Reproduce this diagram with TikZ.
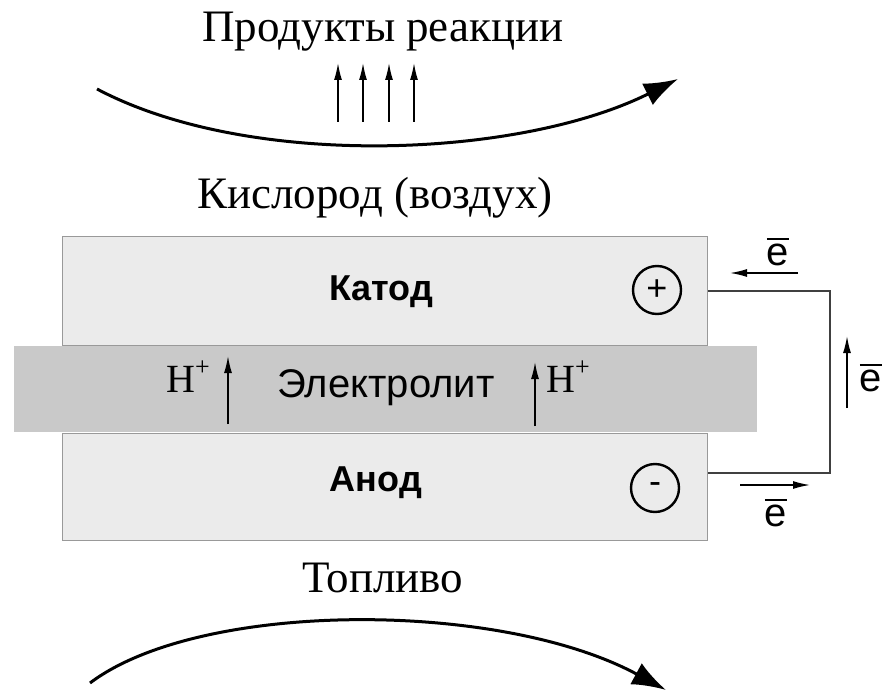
\documentclass[tikz,border=0pt]{standalone}
\usepackage{fontspec}
\setmainfont{Liberation Serif}
\newfontfamily\arial{Liberation Sans}
\usetikzlibrary{arrows.meta}

% electron symbol: sans-serif e with a bar over it
\newcommand\ebar{\hbox{\vbox{\hrule height 2pt\kern 3pt\hbox{e}}}}

\begin{document}
\begin{tikzpicture}[x=1pt,y=-1pt,
  cell/.style={draw=black!40, line width=1.4pt, fill=black!8, inner sep=0pt},
  elyte/.style={fill=black!21, draw=none, inner sep=0pt},
  serif/.style={font=\fontsize{45}{52}\selectfont, inner sep=0pt},
  boldlbl/.style={font=\arial\bfseries\fontsize{36}{42}\selectfont, inner sep=0pt},
  plainlbl/.style={font=\arial\fontsize{40}{46}\selectfont, inner sep=0pt},
  pole/.style={circle, draw=black, line width=2.4pt, minimum size=48pt, inner sep=0pt,
    font=\arial\fontsize{36}{40}\selectfont},
  wire/.style={draw=black!75, line width=2pt},
  flow/.style={line width=3pt, -{Latex[length=34pt,width=24pt]}},
  thin/.style={line width=1.5pt, -{Latex[length=17pt,width=8pt]}},
  elabel/.style={font=\arial\fontsize{40}{46}\selectfont, inner sep=0pt},
  ion/.style={font=\fontsize{40}{46}\selectfont, inner sep=0pt}
]
\useasboundingbox (0,0) rectangle (883,690);
\fill[white] (0,0) rectangle (883,690);

% reaction products leaving above the cell
\node[serif, anchor=base] (prod) at (383,42) {Продукты реакции};
\coordinate (fa) at (97,89);
\coordinate (fb) at (678,79);
\draw[flow] (fa) .. controls (250,170) and (520,158) .. (fb);
\foreach \i/\x in {1/338,2/363,3/389,4/414}{
  \coordinate (ps\i) at (\x,122);
  \coordinate (pe\i) at (\x,63);
  \draw[thin] (ps\i) -- (pe\i);
}

\node[serif, anchor=base] (oxy) at (375,208) {Кислород (воздух)};

% electrodes and electrolyte
\node[cell, anchor=north west, minimum width=645pt, minimum height=109pt] (cathode) at (62,236) {};
\node[cell, anchor=north west, minimum width=645pt, minimum height=107pt] (anode) at (62,433) {};
\node[elyte, anchor=north west, minimum width=743pt, minimum height=86pt] (electrolyte) at (14,346) {};

\node[boldlbl, anchor=base] (catlbl) at (381,300) {Катод};
\node[boldlbl, anchor=base] (anlbl) at (376,491) {Анод};
\node[plainlbl, anchor=base] (ellbl) at (386,397) {Электролит};

\node[pole] (plus) at (657,290) {+};
\node[pole] (minus) at (655,488) {-};

% proton transport through the electrolyte
\coordinate (h1s) at (228,424);
\coordinate (h1e) at (228,356);
\coordinate (h2s) at (535,426);
\coordinate (h2e) at (535,362);
\draw[thin] (h1s) -- (h1e);
\draw[thin] (h2s) -- (h2e);
\node[ion, anchor=base] (hl) at (188,392) {H\raisebox{0.42em}{\fontsize{26}{26}\selectfont +}};
\node[ion, anchor=base] (hr) at (568,392) {H\raisebox{0.42em}{\fontsize{26}{26}\selectfont +}};

% external circuit
\coordinate (wr) at (830,380);
\draw[wire] (cathode.east) -| (wr) |- ([yshift=14pt]anode.east);

\coordinate (t1) at (798,273);
\coordinate (t2) at (730,273);
\draw[thin] (t1) -- (t2);
\node[elabel, anchor=base] (etop) at (778,265) {\ebar};

\coordinate (r1) at (847,408);
\coordinate (r2) at (847,336);
\draw[thin] (r1) -- (r2);
\node[elabel, anchor=base] (eright) at (871,391) {\ebar};

\coordinate (b1) at (740,485);
\coordinate (b2) at (810,485);
\draw[thin] (b1) -- (b2);
\node[elabel, anchor=base] (ebot) at (776,526) {\ebar};

% fuel supplied below the cell
\node[serif, anchor=base] (fuel) at (383,592) {Топливо};
\coordinate (ga) at (90,683);
\coordinate (gb) at (666,690);
\draw[flow] (ga) .. controls (200,600) and (500,600) .. (gb);
\end{tikzpicture}
\end{document}
